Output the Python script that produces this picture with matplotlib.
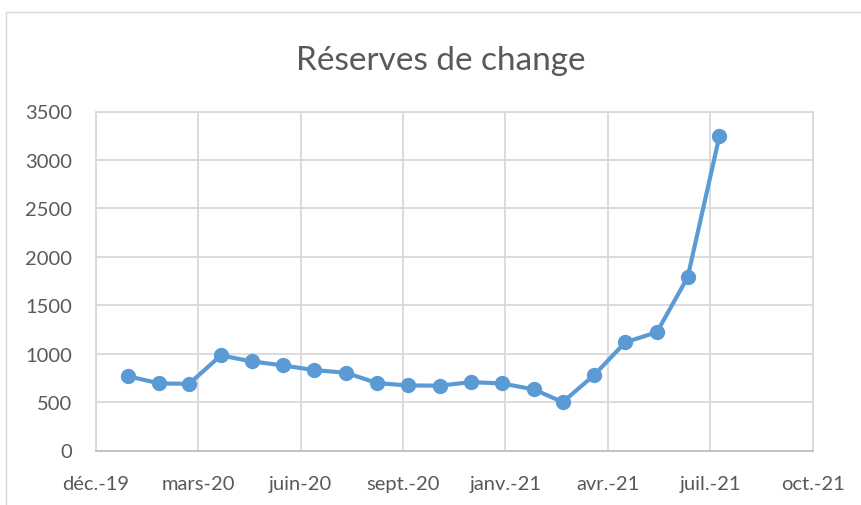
import numpy as np
import pandas as pd
import matplotlib
matplotlib.use("Agg")
import matplotlib.pyplot as plt
import matplotlib.dates as mdates
from matplotlib.patches import Rectangle

plt.rcParams["font.family"] = ["Lato", "DejaVu Sans"]

# données : réserves de change, mensuel janv. 2020 -> août 2021
mois = pd.date_range("2020-01-01", "2021-08-01", freq="MS")
reserves = [768, 692, 689, 982, 920, 878, 830, 803, 695, 672,
            669, 706, 692, 630, 499, 782, 1116, 1222, 1788, 3242]

# axe des dates : pas de 100 jours depuis le 1er déc. 2019
debut_axe = pd.Timestamp("2019-12-01")
etiquettes_x = ["déc.-19", "mars-20", "juin-20", "sept.-20",
                "janv.-21", "avr.-21", "juil.-21", "oct.-21"]
graduations_x = [debut_axe + pd.Timedelta(days=100 * i) for i in range(len(etiquettes_x))]
graduations_y = list(range(0, 3501, 500))

bleu = "#5B9BD5"
gris_texte = "#595959"
gris_grille = "#D9D9D9"

fig = plt.figure(figsize=(8.61, 5.06), dpi=100)

# cadre du graphique
fig.patches.append(Rectangle((6 / 861, -0.2), 1.2, 0.2 + 1 - 13 / 506,
                             transform=fig.transFigure, fill=False,
                             edgecolor="#D9D9D9", linewidth=1.0))

ax = fig.add_axes([96 / 861, 1 - 451.5 / 506, (812.5 - 96) / 861, (451.5 - 112.5) / 506])

ax.plot(mois, reserves, color=bleu, linewidth=3.0, marker="o",
        markersize=10, markerfacecolor=bleu, markeredgecolor=bleu, zorder=3)

ax.set_xlim(graduations_x[0], graduations_x[-1])
ax.set_ylim(0, 3500)
ax.set_xticks(graduations_x)
ax.set_xticklabels(etiquettes_x)
ax.set_yticks(graduations_y)

ax.grid(True, color=gris_grille, linewidth=1.3)
ax.set_axisbelow(True)
for cote in ["top", "right", "left"]:
    ax.spines[cote].set_color(gris_grille)
    ax.spines[cote].set_linewidth(1.3)
ax.spines["bottom"].set_color("#BFBFBF")
ax.spines["bottom"].set_linewidth(1.3)

ax.tick_params(axis="both", length=0, labelsize=14.5, labelcolor=gris_texte)
ax.tick_params(axis="y", pad=17)
ax.tick_params(axis="x", pad=18)

fig.text(441 / 861, 1 - 70 / 506, "Réserves de change", ha="center", va="baseline",
         fontsize=24, color=gris_texte)

fig.savefig("out.png", dpi=100)
